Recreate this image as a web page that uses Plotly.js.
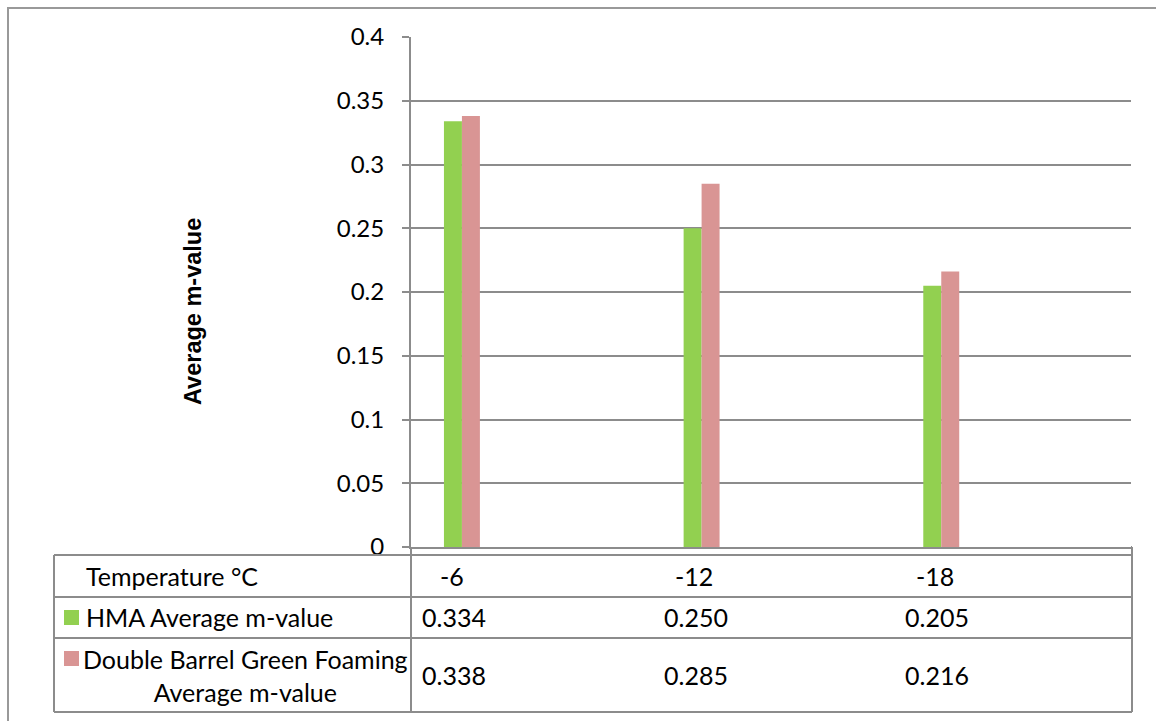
<!DOCTYPE html>
<html>
<head>
<meta charset="utf-8">
<script src="https://cdn.plot.ly/plotly-3.0.1.min.js"></script>
<style>html,body{margin:0;padding:0;background:#fff;}#chart{width:1156px;height:721px;}</style>
</head>
<body>
<div id="chart"></div>
<script>
// ---- data ----
const categories = ['-6', '-12', '-18'];
const hmaValues = [0.334, 0.250, 0.205];
const dbgValues = [0.338, 0.285, 0.216];
const seriesNames = ['HMA Average m-value', 'Double Barrel Green Foaming<br>Average m-value'];
const rowHeader = 'Temperature °C';
const yTickVals = [0, 0.05, 0.1, 0.15, 0.2, 0.25, 0.3, 0.35, 0.4];
const yTickText = ['0', '0.05', '0.1', '0.15', '0.2', '0.25', '0.3', '0.35', '0.4'];
const yTitle = 'Average m-value';

// ---- layout helpers (pixel -> paper) ----
const W = 1156, H = 721;
const px = x => x / W;
const py = y => 1 - y / H;
const GRID = '#8c8c8c';
const FONT = 'Lato, "Open Sans", sans-serif';

const traces = [
  {type: 'bar', x: categories, y: hmaValues, name: 'HMA', marker: {color: '#92d050', line: {width: 0}}},
  {type: 'bar', x: categories, y: dbgValues, name: 'DBGF', marker: {color: '#d99594', line: {width: 0}}}
];

const shapes = [];
function line(x0, y0, x1, y1, w) {
  shapes.push({type: 'line', xref: 'paper', yref: 'paper', x0: px(x0), y0: py(y0), x1: px(x1), y1: py(y1),
    line: {color: GRID, width: w || 2}});
}
// outer chart border
shapes.push({type: 'rect', xref: 'paper', yref: 'paper', x0: px(8), y0: py(730), x1: px(1170), y1: py(8),
  line: {color: '#999', width: 2}, fillcolor: 'rgba(0,0,0,0)'});
// data table
line(54, 555, 1132, 555);
line(54, 712, 1132, 712);
line(54, 555, 54, 712);
line(1132, 547, 1132, 712);
line(54, 597, 1132, 597);
line(54, 638, 1132, 638);
line(411, 547, 411, 712);
line(1131, 547, 1132, 547);
// legend keys
shapes.push({type: 'rect', xref: 'paper', yref: 'paper', x0: px(64), x1: px(79), y0: py(625), y1: py(610),
  line: {width: 0}, fillcolor: '#92d050'});
shapes.push({type: 'rect', xref: 'paper', yref: 'paper', x0: px(64), x1: px(79), y0: py(666), y1: py(651),
  line: {width: 0}, fillcolor: '#d99594'});

const annotations = [];
function txt(text, x, y, xanchor, extra) {
  annotations.push(Object.assign({text: text, xref: 'paper', yref: 'paper', x: px(x), y: py(y),
    xanchor: xanchor, yanchor: 'middle', showarrow: false, align: xanchor === 'center' ? 'center' : 'left',
    font: {family: FONT, size: 25, color: '#000'}}, extra || {}));
}
txt(rowHeader, 84, 576, 'left');
txt(seriesNames[0], 84, 617, 'left');
txt(seriesNames[1], 245, 675, 'center');
categories.forEach((c, i) => {
  txt(c, 452 + i * 241.5, 576, 'center');
  txt(hmaValues[i].toFixed(3), 420 + i * 241.5, 617, 'left');
  txt(dbgValues[i].toFixed(3), 420 + i * 241.5, 675, 'left');
});
// y-axis title
annotations.push({text: '<b>' + yTitle + '</b>', xref: 'paper', yref: 'paper', x: px(193), y: py(312),
  xanchor: 'center', yanchor: 'middle', showarrow: false, textangle: -90,
  font: {family: '"Liberation Sans", Arial, sans-serif', size: 23.5, color: '#000'}});

const layout = {
  width: W, height: H,
  margin: {l: 0, r: 0, t: 0, b: 0},
  paper_bgcolor: '#fff', plot_bgcolor: '#fff',
  showlegend: false,
  barmode: 'group', bargap: 0.85, bargroupgap: 0,
  xaxis: {
    type: 'category', domain: [px(411), px(1131)], range: [-0.2125, 2.7917],
    showticklabels: false, ticks: '', showgrid: false, zeroline: false,
    showline: true, linecolor: GRID, linewidth: 2
  },
  yaxis: {
    domain: [py(547), py(37)], range: [0, 0.4],
    tickvals: yTickVals, ticktext: yTickText,
    ticks: 'outside', ticklen: 7, tickwidth: 2, tickcolor: GRID,
    ticklabelstandoff: 13,
    showgrid: true, gridcolor: GRID, gridwidth: 2, zeroline: false,
    showline: true, linecolor: GRID, linewidth: 2,
    tickfont: {family: FONT, size: 24, color: '#000'}
  },
  shapes: shapes,
  annotations: annotations
};

Plotly.newPlot('chart', traces, layout, {staticPlot: true, displayModeBar: false});
</script>
</body>
</html>
